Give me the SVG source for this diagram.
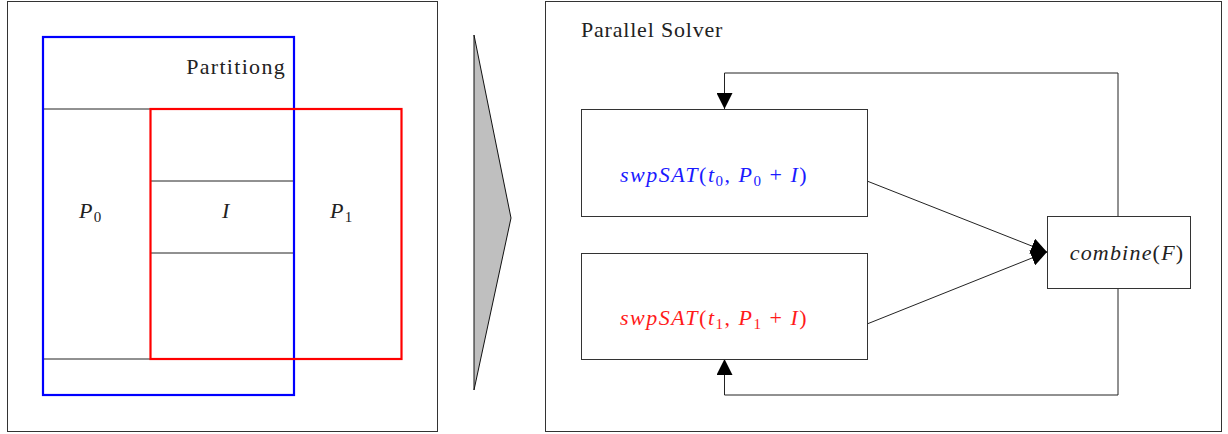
<svg xmlns="http://www.w3.org/2000/svg" width="1228" height="434" viewBox="0 0 1228 434">
<defs>
<style>
.frame{fill:none;stroke:#333;stroke-width:1}
.box{fill:#fff;stroke:#333;stroke-width:1}
.ln{fill:none;stroke:#222;stroke-width:1}
.t{font-family:"Liberation Serif",serif;font-size:22px;letter-spacing:0.8px;fill:#222}
.m{font-family:"Liberation Serif",serif;font-size:22px;font-style:italic;letter-spacing:1.2px;fill:#222}
.up{font-style:normal}
.sub{font-size:15px;font-style:normal}
</style>
<marker id="ah" viewBox="0 0 10 10" refX="10" refY="5" markerWidth="16" markerHeight="16" markerUnits="userSpaceOnUse" orient="auto">
<path d="M0,0 L10,5 L0,10 Z" fill="#000"/>
</marker>
</defs>
<g id="partition-panel">
<rect class="frame" x="7.5" y="1.5" width="430" height="430"/>
<line class="ln" x1="43" y1="109" x2="150" y2="109"/>
<line class="ln" x1="43" y1="359" x2="150" y2="359"/>
<line class="ln" x1="150" y1="181" x2="294" y2="181"/>
<line class="ln" x1="150" y1="253" x2="294" y2="253"/>
<rect x="43" y="37" width="251" height="358" fill="none" stroke="#0000ff" stroke-width="2.2"/>
<rect x="150.5" y="109" width="251" height="250" fill="none" stroke="#ff0000" stroke-width="2.2"/>
<text class="t" x="286" y="74" text-anchor="end" style="letter-spacing:1.3px">Partitiong</text>
<text class="m" x="79" y="218">P<tspan class="sub" dy="4">0</tspan></text>
<text class="m" x="222" y="218">I</text>
<text class="m" x="330" y="218">P<tspan class="sub" dy="4">1</tspan></text>
</g>
<g id="big-arrow">
<polygon points="474,35 511,218 474,390" fill="#bfbfbf" stroke="#111" stroke-width="1"/>
</g>
<g id="solver-panel">
<rect class="frame" x="545.5" y="1.5" width="676" height="430"/>
<text class="t" x="581" y="37">Parallel Solver</text>
</g>
<g id="connectors">
<line class="ln" x1="867" y1="181" x2="1047" y2="252" marker-end="url(#ah)"/>
<line class="ln" x1="867" y1="324" x2="1047" y2="252" marker-end="url(#ah)"/>
<polyline class="ln" points="1118,216 1118,73 724.5,73 724.5,109" marker-end="url(#ah)"/>
<polyline class="ln" points="1118,288 1118,395 724.5,395 724.5,359" marker-end="url(#ah)"/>
</g>
<g id="solver0">
<rect class="box" x="581.5" y="109.5" width="286" height="107"/>
<text class="m" x="714" y="182" text-anchor="middle" style="fill:#1a1aff;letter-spacing:1.5px">swpSAT<tspan class="up">(</tspan>t<tspan class="sub" dy="4">0</tspan><tspan dy="-4" class="up">, </tspan>P<tspan class="sub" dy="4">0</tspan><tspan dy="-4" class="up"> + </tspan>I<tspan class="up">)</tspan></text>
</g>
<g id="solver1">
<rect class="box" x="581.5" y="253.5" width="286" height="106"/>
<text class="m" x="714" y="325" text-anchor="middle" style="fill:#ff1a1a;letter-spacing:1.5px">swpSAT<tspan class="up">(</tspan>t<tspan class="sub" dy="4">1</tspan><tspan dy="-4" class="up">, </tspan>P<tspan class="sub" dy="4">1</tspan><tspan dy="-4" class="up"> + </tspan>I<tspan class="up">)</tspan></text>
</g>
<g id="combine">
<rect class="box" x="1047.5" y="216.5" width="143" height="72"/>
<text class="m" x="1127" y="260" text-anchor="middle">combine<tspan class="up">(</tspan>F<tspan class="up">)</tspan></text>
</g>
</svg>
